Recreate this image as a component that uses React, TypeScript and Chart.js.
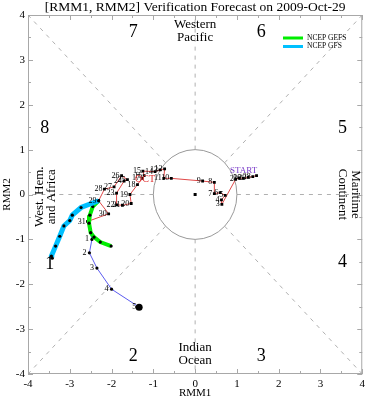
import React, { useEffect, useRef } from "react";
import { Chart, registerables } from "chart.js";

Chart.register(...registerables);

const SERIF = "'Liberation Serif', 'Times New Roman', serif";
const TITLE = "[RMM1, RMM2] Verification Forecast on 2009-Oct-29";
const X_TITLE = "RMM1";
const Y_TITLE = "RMM2";
const AXIS_MIN = -4;
const AXIS_MAX = 4;

// Observed RMM trajectory (red), late Sep -> 31 Oct
const obsRmm1 = [1.47, 1.38, 1.27, 1.15, 1.05, 0.97, 0.64, 0.63, 0.72, 0.6, 0.46, 0.46, 0.18, -0.57, -0.75, -0.73, -0.84, -0.96, -1.25, -1.22, -1.27, -1.38, -1.56, -1.53, -1.74, -1.88, -1.88, -1.7, -1.62, -1.76, -1.94, -2.17, -2.31, -2.07, -2.57];
const obsRmm2 = [0.42, 0.4, 0.38, 0.36, 0.37, 0.34, -0.22, -0.12, -0.02, 0.04, 0.02, 0.27, 0.3, 0.36, 0.36, 0.57, 0.55, 0.51, 0.52, 0.42, 0.36, 0.22, 0.0, -0.2, -0.24, -0.23, 0.03, 0.3, 0.33, 0.42, 0.17, 0.12, -0.14, -0.43, -0.6];
const obsDays = ["", "28", "29", "30", "1", "2", "3", "4", "5", "6", "7", "8", "9", "10", "11", "12", "13", "14", "15", "16", "17", "18", "19", "20", "21", "22", "23", "24", "25", "26", "27", "28", "29", "30", "31"];

// Verifying observations, November (blue)
const verRmm1 = [-2.57, -2.47, -2.53, -2.35, -2.0, -1.34];
const verRmm2 = [-0.6, -1.0, -1.3, -1.64, -2.11, -2.51];
const verDays = ["", "1", "2", "3", "4", "5"];

// NCEP GEFS forecast (green)
const gefsRmm1 = [-2.31, -2.45, -2.52, -2.54, -2.5, -2.42, -2.27, -2.01];
const gefsRmm2 = [-0.14, -0.27, -0.46, -0.64, -0.85, -0.95, -1.06, -1.15];

// NCEP GFS forecast (cyan)
const gfsRmm1 = [-2.31, -2.73, -2.94, -3.0, -3.14, -3.24, -3.34, -3.44, -3.42];
const gfsRmm2 = [-0.14, -0.29, -0.46, -0.58, -0.7, -0.93, -1.15, -1.37, -1.42];

const legendNames = ["NCEP GEFS", "NCEP GFS"];
const legendColors = ["#00ee00", "#00c0ff"];
const phaseNames = ["1", "2", "3", "4", "5", "6", "7", "8"];

const toPts = (xs: number[], ys: number[]) => xs.map((v, i) => ({ x: v, y: ys[i] }));

const decor = {
  id: "decor",
  beforeDatasetsDraw(chart: any) {
    const { ctx, chartArea: a, scales } = chart;
    const x = scales.x;
    const y = scales.y;
    const px = (v: number) => x.getPixelForValue(v);
    const py = (v: number) => y.getPixelForValue(v);
    ctx.save();
    // dashed phase dividers
    ctx.strokeStyle = "#b0b0b0";
    ctx.lineWidth = 1;
    ctx.setLineDash([4, 5]);
    const seg = (x1: number, y1: number, x2: number, y2: number) => {
      ctx.beginPath();
      ctx.moveTo(px(x1), py(y1));
      ctx.lineTo(px(x2), py(y2));
      ctx.stroke();
    };
    const r = Math.SQRT1_2;
    seg(0, 1, 0, 4);
    seg(0, -1, 0, -4);
    seg(1, 0, 4, 0);
    seg(-1, 0, -4, 0);
    seg(r, r, 4, 4);
    seg(-r, r, -4, 4);
    seg(r, -r, 4, -4);
    seg(-r, -r, -4, -4);
    ctx.setLineDash([]);
    // unit circle
    ctx.strokeStyle = "#999";
    ctx.beginPath();
    ctx.ellipse(px(0), py(0), px(1) - px(0), py(0) - py(1), 0, 0, Math.PI * 2);
    ctx.stroke();
    // centre dot
    ctx.fillStyle = "#000";
    ctx.fillRect(px(0) - 1.5, py(0) - 1.5, 3, 3);
    // frame
    ctx.strokeStyle = "#a8a8a8";
    ctx.strokeRect(a.left + 0.5, a.top + 0.5, a.width - 1, a.height - 1);
    // inward ticks
    for (let v = AXIS_MIN; v <= AXIS_MAX; v += 0.5) {
      const len = Number.isInteger(v) ? 5 : 3;
      const xx = Math.round(px(v)) + 0.5;
      const yy = Math.round(py(v)) + 0.5;
      ctx.beginPath();
      ctx.moveTo(xx, a.bottom); ctx.lineTo(xx, a.bottom - len);
      ctx.moveTo(xx, a.top); ctx.lineTo(xx, a.top + len);
      ctx.moveTo(a.left, yy); ctx.lineTo(a.left + len, yy);
      ctx.moveTo(a.right, yy); ctx.lineTo(a.right - len, yy);
      ctx.stroke();
    }
    ctx.restore();
  },
  afterDatasetsDraw(chart: any) {
    const { ctx, scales } = chart;
    const x = scales.x;
    const y = scales.y;
    const px = (v: number) => x.getPixelForValue(v);
    const py = (v: number) => y.getPixelForValue(v);
    const txt = (s: string, X: number, Y: number, size: number, color = "#000", align = "center", rot = 0) => {
      ctx.save();
      ctx.translate(X, Y);
      ctx.rotate(rot);
      ctx.font = `${size}px ${SERIF}`;
      ctx.fillStyle = color;
      ctx.textAlign = align;
      ctx.textBaseline = "middle";
      ctx.fillText(s, 0, 0);
      ctx.restore();
    };
    // phase numbers
    const spots = [[-3.48, -1.55], [-1.48, -3.6], [1.58, -3.6], [3.53, -1.5], [3.53, 1.48], [1.58, 3.62], [-1.48, 3.62], [-3.6, 1.48]];
    phaseNames.forEach((n, i) => txt(n, px(spots[i][0]), py(spots[i][1]), 18));
    // region names
    txt("Western", px(0), py(3.78), 13);
    txt("Pacific", px(0), py(3.5), 13);
    txt("Indian", px(0), py(-3.42), 13);
    txt("Ocean", px(0), py(-3.7), 13);
    txt("West. Hem.", px(-3.72), py(-0.05), 13, "#000", "center", -Math.PI / 2);
    txt("and Africa", px(-3.43), py(-0.05), 13, "#000", "center", -Math.PI / 2);
    txt("Maritime", px(3.84), py(0), 13, "#000", "center", Math.PI / 2);
    txt("Continent", px(3.53), py(0), 13, "#000", "center", Math.PI / 2);
    // day labels
    obsDays.forEach((d, i) => {
      if (d) txt(d, px(obsRmm1[i]) - 2, py(obsRmm2[i]), 8, "#000", "right");
    });
    verDays.forEach((d, i) => {
      if (d) txt(d, px(verRmm1[i]) - 3, py(verRmm2[i]), 8, "#000", "right");
    });
    txt("START", px(obsRmm1[0]) - 13, py(obsRmm2[0]) - 5, 9, "#7a3cc8");
    txt("OCT", px(-1.2), py(0.33), 10, "#e03030");
    // legend
    ctx.save();
    legendNames.forEach((n, i) => {
      const ly = 38 + i * 8.5;
      ctx.strokeStyle = legendColors[i];
      ctx.lineWidth = 3;
      ctx.beginPath();
      ctx.moveTo(283, ly);
      ctx.lineTo(303, ly);
      ctx.stroke();
      txt(n, 307, ly, 7.5, "#000", "left");
    });
    ctx.restore();
  },
};

export default function App() {
  const ref = useRef<HTMLCanvasElement>(null);
  useEffect(() => {
    document.body.style.margin = "0";
    const lastVer = verRmm1.length - 1;
    const chart = new Chart(ref.current as HTMLCanvasElement, {
      type: "scatter",
      data: {
        datasets: [
          {
            label: "NCEP GFS",
            data: toPts(gfsRmm1, gfsRmm2),
            showLine: true,
            borderColor: "#00c0ff",
            borderWidth: 5,
            pointRadius: 1.6,
            pointBackgroundColor: "#000",
            pointBorderWidth: 0,
          },
          {
            label: "NCEP GEFS",
            data: toPts(gefsRmm1, gefsRmm2),
            showLine: true,
            borderColor: "#00ee00",
            borderWidth: 4,
            pointRadius: 1.6,
            pointBackgroundColor: "#000",
            pointBorderWidth: 0,
          },
          {
            label: "Verification",
            data: toPts(verRmm1, verRmm2),
            showLine: true,
            borderColor: "#5b5bef",
            borderWidth: 1,
            pointStyle: "circle",
            pointRadius: (c: any) => (c.dataIndex === lastVer ? 3.5 : 1.6),
            pointBackgroundColor: "#000",
            pointBorderWidth: 0,
          },
          {
            label: "Observed",
            data: toPts(obsRmm1, obsRmm2),
            showLine: true,
            borderColor: "#e04848",
            borderWidth: 1,
            pointStyle: "rect",
            pointRadius: 2,
            pointBackgroundColor: "#000",
            pointBorderWidth: 0,
          },
        ],
      },
      options: {
        responsive: false,
        animation: false,
        devicePixelRatio: 1,
        layout: { padding: { left: 0, right: 4, top: 0, bottom: 0 } },
        plugins: {
          legend: { display: false },
          tooltip: { enabled: false },
          title: {
            display: true,
            text: TITLE,
            fullSize: false,
            color: "#000",
            font: { family: SERIF, size: 13.5, weight: "normal", lineHeight: 1 },
            padding: { top: 0.5, bottom: 1 },
          },
        },
        scales: {
          x: {
            type: "linear",
            min: AXIS_MIN,
            max: AXIS_MAX,
            grid: { display: false, drawTicks: false },
            border: { display: false },
            ticks: { stepSize: 1, padding: 4, color: "#000", font: { family: SERIF, size: 11 } },
            title: { display: true, text: X_TITLE, color: "#000", font: { family: SERIF, size: 11 }, padding: 0 },
            afterFit: (s: any) => { s.height = 26; },
          },
          y: {
            type: "linear",
            min: AXIS_MIN,
            max: AXIS_MAX,
            grid: { display: false, drawTicks: false },
            border: { display: false },
            ticks: { stepSize: 1, padding: 3, color: "#000", font: { family: SERIF, size: 11 } },
            title: { display: true, text: Y_TITLE, color: "#000", font: { family: SERIF, size: 11 }, padding: { top: 0.5, bottom: 0 } },
            afterFit: (s: any) => { s.width = 28; },
          },
        },
      } as any,
      plugins: [decor],
    });
    return () => chart.destroy();
  }, []);
  return (
    <div style={{ width: 369, height: 400 }}>
      <canvas ref={ref} width={369} height={400} />
    </div>
  );
}
